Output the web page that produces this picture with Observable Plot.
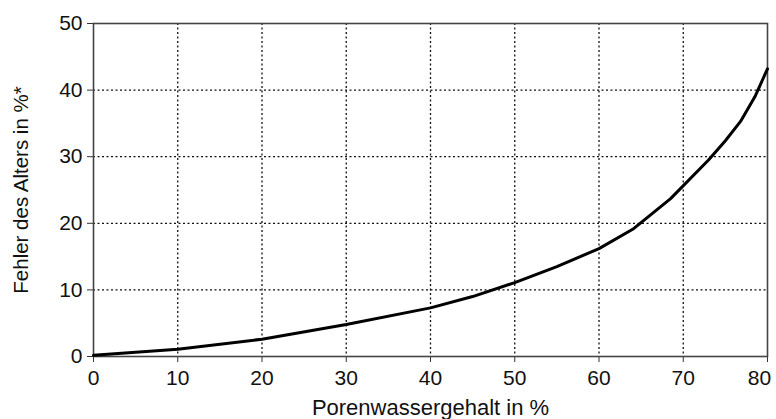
<!DOCTYPE html>
<html>
<head>
<meta charset="utf-8">
<script src="https://cdn.jsdelivr.net/npm/d3@7"></script>
<script src="https://cdn.jsdelivr.net/npm/@observablehq/plot@0.6"></script>
<style>
  html, body { margin: 0; padding: 0; background: #fff; }
  #chart svg { display: block; }
  #chart svg g[aria-label="x-axis tick label"],
  #chart svg g[aria-label="y-axis tick label"] { font-size: 21px; }
  #chart svg g[aria-label="x-axis label"] { font-size: 22px; }
  #chart svg g[aria-label="y-axis label"] { font-size: 20.5px; }
</style>
</head>
<body>
<div id="chart"></div>
<script>
// Porenwassergehalt in % (x) vs Fehler des Alters in %* (y)
const porenwasser = [0, 10, 20, 30, 40, 45, 50, 55, 60, 64, 68.5, 73, 75, 76.8, 78.5, 80];
const fehler      = [0.2, 1.1, 2.6, 4.8, 7.3, 9.0, 11.1, 13.5, 16.2, 19.1, 23.7, 29.5, 32.4, 35.3, 39.0, 43.2];
const xTicks = [0, 10, 20, 30, 40, 50, 60, 70, 80];
const xTicksLast = [80];
const yTicks = [0, 10, 20, 30, 40, 50];
const gridXTicks = [10, 20, 30, 40, 50, 60, 70];
const gridYTicks = [10, 20, 30, 40];

const data = porenwasser.map((x, i) => ({x, y: fehler[i]}));

const chart = Plot.plot({
  width: 776,
  height: 419,
  marginLeft: 93,
  marginRight: 9,
  marginTop: 23,
  marginBottom: 63,
  style: {fontFamily: "Liberation Sans, Arial, sans-serif", fontSize: "21px", color: "#111", background: "#fff"},
  x: {domain: [0, 80]},
  y: {domain: [0, 50]},
  marks: [
    Plot.gridX(gridXTicks, {stroke: "#111", strokeOpacity: 1, strokeWidth: 1.3, strokeDasharray: "2,2.5"}),
    Plot.gridY(gridYTicks, {stroke: "#111", strokeOpacity: 1, strokeWidth: 1.3, strokeDasharray: "2,2.5"}),
    Plot.axisX(xTicks, {tickSize: 6, tickPadding: 8, stroke: "#333",
      tickFormat: d => (xTicksLast.includes(d) ? "" : String(d)),
      label: "Porenwassergehalt in %", labelAnchor: "center", labelArrow: "none", labelOffset: 58}),
    Plot.axisX(xTicksLast, {tickSize: 0, tickPadding: 14, dx: -8, label: null}),
    Plot.axisY(yTicks, {tickSize: 6, tickPadding: 5, stroke: "#333",
      label: "Fehler des Alters in %*", labelAnchor: "center", labelArrow: "none", labelOffset: 80}),
    Plot.frame({stroke: "#444", strokeWidth: 1.6}),
    Plot.line(data, {x: "x", y: "y", stroke: "#000", strokeWidth: 3, curve: "linear"})
  ]
});
document.getElementById("chart").append(chart);
</script>
</body>
</html>
